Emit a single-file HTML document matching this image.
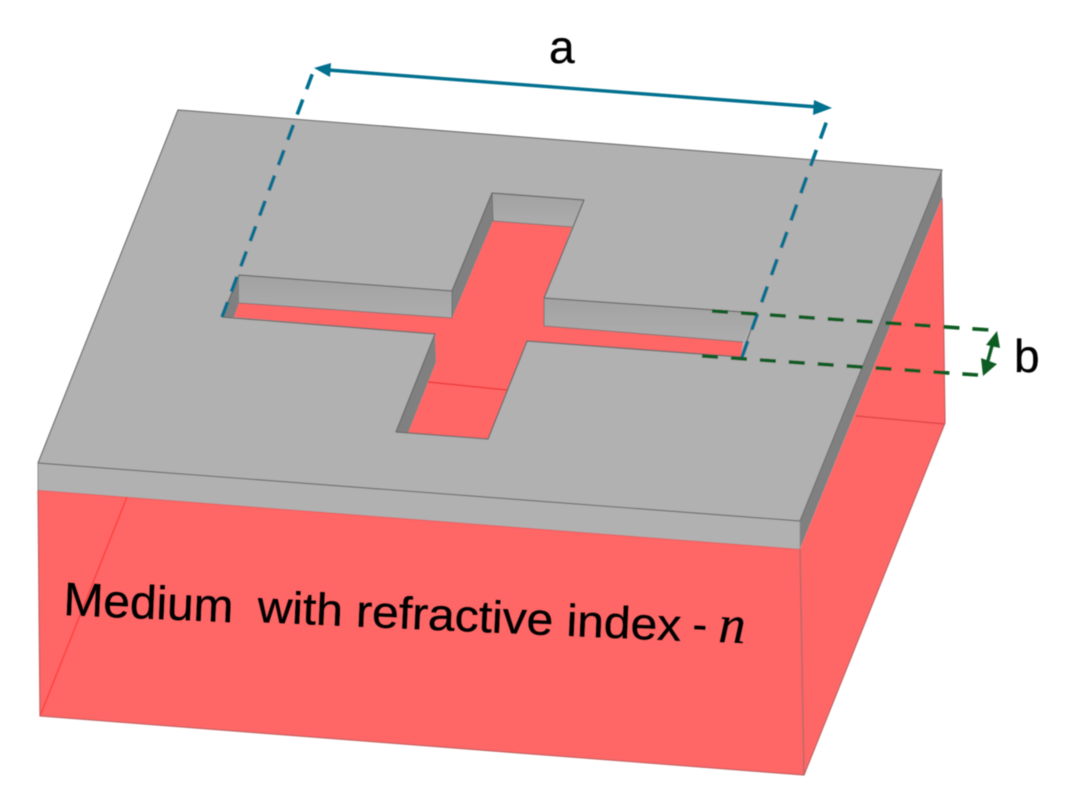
<!DOCTYPE html>
<html>
<head>
<meta charset="utf-8">
<style>
html,body{margin:0;padding:0;background:#fff;width:1070px;height:807px;overflow:hidden}
svg{display:block}
text{fill:#000;stroke:#000;stroke-width:0.35px;font-family:"Liberation Sans",sans-serif}
</style>
</head>
<body>
<svg width="1070" height="807" viewBox="0 0 1070 807" xmlns="http://www.w3.org/2000/svg">
<defs>
<filter id="s" x="-5%" y="-5%" width="110%" height="110%"><feGaussianBlur stdDeviation="0.6"/></filter>
<filter id="t" x="-5%" y="-20%" width="110%" height="140%"><feGaussianBlur stdDeviation="0.4"/></filter>
<linearGradient id="w" x1="0" y1="0" x2="0" y2="1"><stop offset="0" stop-color="#a2a2a2"/><stop offset="1" stop-color="#adadad"/></linearGradient>
</defs>
<g filter="url(#s)">
  <!-- red medium -->
  <polygon points="38,490 800,549 804,775 40,716" fill="#ff6666"/>
  <polygon points="800,549 942,198 945,423 804,775" fill="#ff6666"/>
  <path d="M40,716 L127,497" stroke="#ff4040" stroke-width="1.5" fill="none"/>
  <path d="M856,416 L945,424" stroke="#e04848" stroke-width="1.5" fill="none"/>
  <path d="M942,198 L945,423 L804,775 L40,716 L38,490" stroke="#c26060" stroke-width="1.2" fill="none"/>
  <path d="M800,549 L804,775" stroke="#a86a6a" stroke-width="1.2" fill="none"/>
  <path d="M38,490 L800,549" stroke="#d85a5a" stroke-width="1.5" fill="none"/>

  <!-- plate -->
  <polygon points="38,463 800,521 800,549 38,490" fill="#b1b1b1"/>
  <polygon points="942,170 942,198 800,549 800,521" fill="#808080"/>
  <polygon points="178,110 942,170 800,521 38,463" fill="#b1b1b1"/>
  <path d="M38,463 L800,521 L942,170 L178,110 Z" stroke="#707070" stroke-width="1.2" fill="none" stroke-linejoin="round"/>
  <path d="M38,463 L38,490 M800,521 L800,549" stroke="#8f8f8f" stroke-width="1" fill="none"/>

  <!-- cross hole -->
  <polygon points="493,221 572,227 544,298 544,326 743,342 741,357 527,341 488,439 408,433 436,362 435,334 234,317 239,303 452,318" fill="#ff6666"/>
  <path d="M428,382 L507,390" stroke="#f03c3c" stroke-width="1.5" fill="none"/>
  <polygon points="492,193 584,200 572,227 493,221" fill="url(#w)"/>
  <polygon points="239,275 452,291 452,318 239,303" fill="url(#w)"/>
  <polygon points="544,298 757,313 743,342 544,326" fill="url(#w)"/>
  <polygon points="492,193 493,221 452,318 452,291" fill="#808080"/>
  <polygon points="239,275 239,303 234,317 222,317" fill="#808080"/>
  <polygon points="435,334 436,362 408,433 396,432" fill="#808080"/>
  <path d="M239,303 L452,318 M493,221 L572,227 M544,326 L743,342" stroke="#8a7070" stroke-width="1" fill="none"/>
  <path d="M222,317 L239,275 L452,291 L492,193 L584,200 L544,298 L757,313 L741,357 L527,341 L488,439 L396,432 L435,334 Z" stroke="#6b6b6b" stroke-width="1.3" fill="none" stroke-linejoin="round"/>
  <path d="M452,291 L452,318 M544,298 L544,326 M492,193 L493,221" stroke="#707070" stroke-width="1" fill="none"/>

  <!-- a dimension -->
  <path d="M222,317 L313,72" stroke="#00708f" stroke-width="3.6" stroke-dasharray="16 11" fill="none"/>
  <path d="M742,357 L830,112" stroke="#00708f" stroke-width="3.6" stroke-dasharray="17 12" fill="none"/>
  <path d="M328,70 L818,107" stroke="#00708f" stroke-width="3.4" fill="none"/>
  <polygon points="314,68 331,63 330,77" fill="#00708f"/>
  <polygon points="832,108 814,100 813,115" fill="#00708f"/>

  <!-- b dimension -->
  <path d="M712,311 L990,330" stroke="#0a5c24" stroke-width="3.6" stroke-dasharray="16 13" fill="none"/>
  <path d="M702,356 L978,375" stroke="#0a5c24" stroke-width="3.6" stroke-dasharray="16 13" fill="none"/>
  <path d="M993,342 L987,364" stroke="#0a5c24" stroke-width="3.4" fill="none"/>
  <polygon points="997,331 1000,348 986,345" fill="#0a5c24"/>
  <polygon points="983,376 981,358 997,364" fill="#0a5c24"/>
</g>

<g filter="url(#t)">
  <text x="549" y="63" font-size="46">a</text>
  <text x="1014" y="372" font-size="46">b</text>
  <text transform="translate(63,615) rotate(2.45)" font-size="47" textLength="170" lengthAdjust="spacingAndGlyphs">Medium</text>
  <text transform="translate(257,622) rotate(2.55)" font-size="45" textLength="424" lengthAdjust="spacingAndGlyphs">with refractive index</text>
  <text transform="translate(692,639) rotate(2.5)" font-size="44">-</text>
  <text transform="translate(718,642) rotate(2.5)" font-size="54" style="font-family:'Liberation Serif',serif;font-style:italic;stroke-width:0.2px">n</text>
</g>
</svg>
</body>
</html>
